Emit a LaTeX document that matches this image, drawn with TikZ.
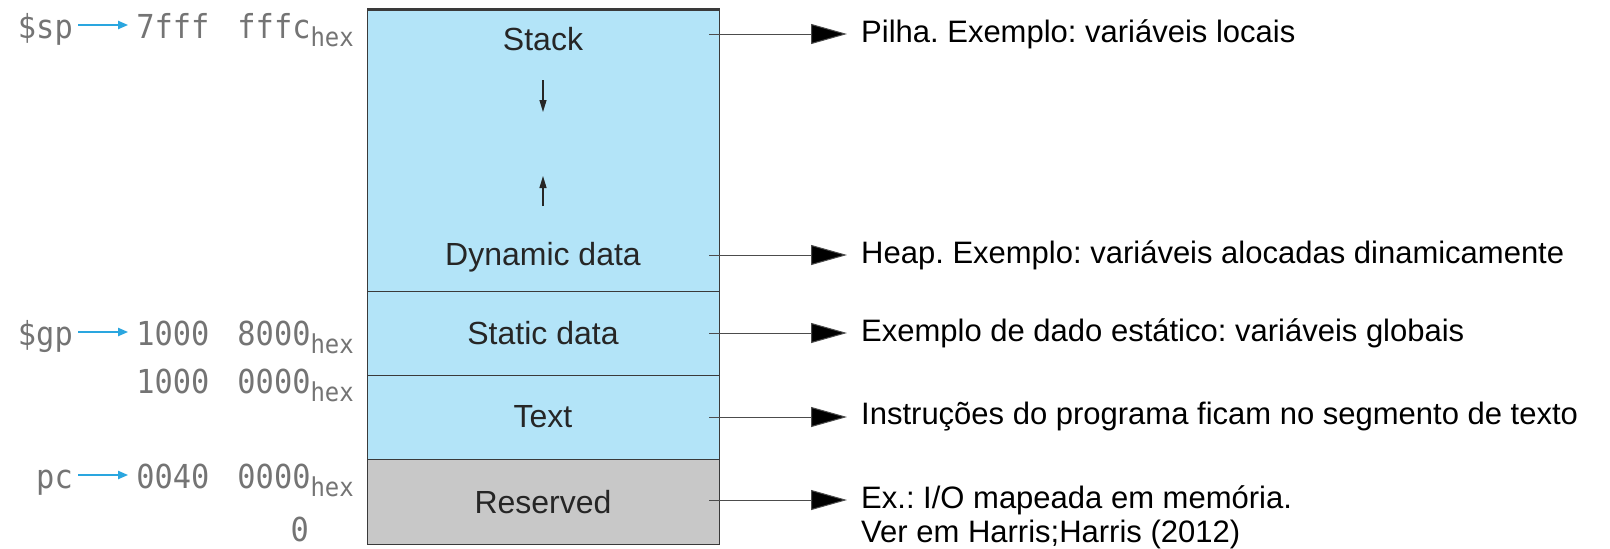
\documentclass[tikz,border=0pt]{standalone}
\usepackage{fontspec}
\setmainfont{Liberation Sans}
\newfontfamily\monof[FakeStretch=0.92]{DejaVu Sans Mono}
\usetikzlibrary{arrows.meta}
\frenchspacing
\definecolor{segblue}{HTML}{B3E4F8}
\definecolor{seggray}{HTML}{C8C8C8}
\definecolor{segline}{HTML}{3A3A3A}
\definecolor{addrgray}{HTML}{747474}
\definecolor{ptrblue}{HTML}{2AA6DF}
\newcommand{\hexsub}{\raisebox{-8pt}{\fontsize{26}{26}\selectfont hex}}
\newcommand{\gapsp}{\hspace{0.85em}}
\tikzset{
  seg/.style={draw=segline, line width=1.2pt, fill=segblue, minimum width=352pt, inner sep=0pt, anchor=north west},
  lbl/.style={font=\fontsize{32}{32}\selectfont, text=black!85, inner sep=0pt},
  note/.style={font=\fontsize{31}{34}\selectfont, text=black, inner sep=0pt, anchor=west, align=left},
  addr/.style={font=\monof\fontsize{33}{33}\selectfont, text=addrgray, inner sep=0pt},
  conn/.style={draw=black!70, line width=1pt, -{Triangle[length=36pt,width=20pt,fill=black]}},
  growarrow/.style={draw=black!85, line width=1.2pt, -{Triangle[length=12pt,width=7pt]}},
  ptr/.style={draw=ptrblue, line width=2pt, -{Triangle[length=10pt,width=8pt]}}
}
\begin{document}
\begin{tikzpicture}[x=1pt,y=-1pt]
\useasboundingbox (0,0) rectangle (1610,549);
% segments
\node[seg, minimum height=282pt] (stackseg) at (367,9) {};
\node[seg, minimum height=84pt] (staticseg) at (367,291) {};
\node[seg, minimum height=84pt] (textseg) at (367,375) {};
\node[seg, fill=seggray, minimum height=85pt] (resseg) at (367,459) {};
\draw[segline, line width=3pt] (stackseg.north west) -- (stackseg.north east);
% labels
\node[lbl] (lstack) at (543,39) {Stack};
\node[lbl] (ldyn) at (543,257) {Dynamic data};
\node[lbl] (lstatic) at (543,333) {Static data};
\node[lbl] (ltext) at (543,417) {Text};
\node[lbl] (lres) at (543,502) {Reserved};
\coordinate (d1) at (543,80);
\coordinate (d2) at (543,112);
\coordinate (u1) at (543,206);
\coordinate (u2) at (543,176);
\draw[growarrow] (d1) -- (d2);
\draw[growarrow] (u1) -- (u2);
% notes
\coordinate (s1) at (709,34);
\coordinate (s2) at (709,255);
\coordinate (s3) at (709,333);
\coordinate (s4) at (709,417);
\coordinate (s5) at (709,500);
\node[note] (n1) at (861,34) {Pilha. Exemplo: variáveis locais};
\node[note] (n2) at (861,255) {Heap. Exemplo: variáveis alocadas dinamicamente};
\node[note] (n3) at (861,333) {Exemplo de dado estático: variáveis globais};
\node[note] (n4) at (861,417) {Instruções do programa ficam no segmento de texto};
\node[note] (n5) at (861,517) {Ex.: I/O mapeada em memória.\\Ver em Harris;Harris (2012)};
\draw[conn] (s1) -- ([xshift=-14pt]n1.west);
\draw[conn] (s2) -- ([xshift=-14pt]n2.west);
\draw[conn] (s3) -- ([xshift=-14pt]n3.west);
\draw[conn] (s4) -- ([xshift=-14pt]n4.west);
\draw[conn] (s5) -- ([xshift=-14pt]n5.west |- s5);
% addresses
\node[addr, anchor=base east] (sp) at (73,38) {\$sp};
\node[addr, anchor=base east] (spv) at (354,38) {7fff\gapsp fffc\hexsub};
\node[addr, anchor=base east] (gp) at (73,345) {\$gp};
\node[addr, anchor=base east] (gpv) at (354,345) {1000\gapsp 8000\hexsub};
\node[addr, anchor=base east] (tv) at (354,393) {1000\gapsp 0000\hexsub};
\node[addr, anchor=base east] (pc) at (73,488) {pc};
\node[addr, anchor=base east] (pcv) at (354,488) {0040\gapsp 0000\hexsub};
\node[addr, anchor=base east] (zero) at (309,541) {0};
\draw[ptr] ([xshift=5pt,yshift=13pt]sp.base east) -- ([xshift=-8pt,yshift=13pt]spv.base west);
\draw[ptr] ([xshift=5pt,yshift=13pt]gp.base east) -- ([xshift=-8pt,yshift=13pt]gpv.base west);
\draw[ptr] ([xshift=5pt,yshift=13pt]pc.base east) -- ([xshift=-8pt,yshift=13pt]pcv.base west);
\end{tikzpicture}
\end{document}
